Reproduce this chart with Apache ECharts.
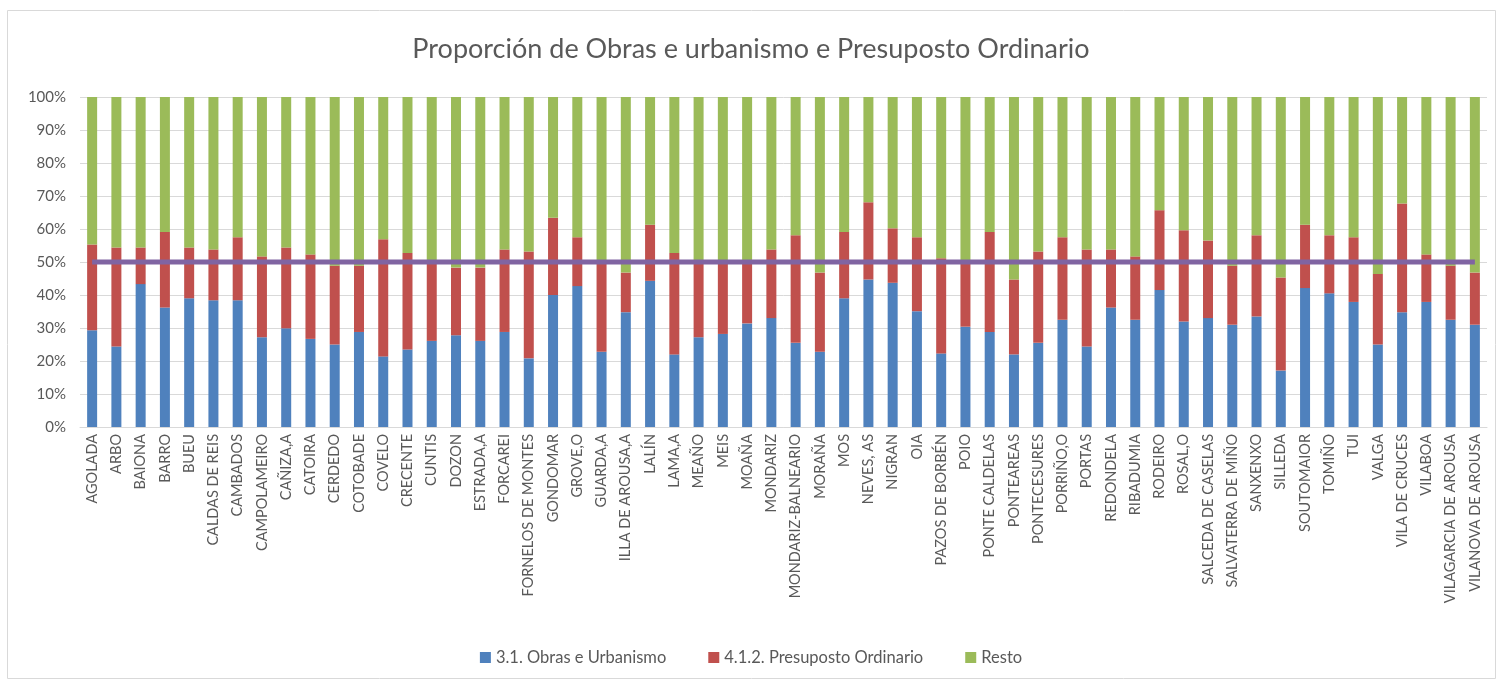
<!DOCTYPE html>
<html>
<head>
<meta charset="utf-8">
<script src="https://cdn.jsdelivr.net/npm/echarts@6/dist/echarts.min.js"></script>
<style>
  html, body { margin: 0; padding: 0; background: #fff; }
  #chart { width: 1502px; height: 684px; }
</style>
</head>
<body>
<div id="chart"></div>
<script>
const concellos = [
  'AGOLADA', 'ARBO', 'BAIONA', 'BARRO', 'BUEU', 'CALDAS DE REIS', 'CAMBADOS', 'CAMPOLAMEIRO',
  'CAÑIZA,A', 'CATOIRA', 'CERDEDO', 'COTOBADE', 'COVELO', 'CRECENTE', 'CUNTIS', 'DOZON',
  'ESTRADA,A', 'FORCAREI', 'FORNELOS DE MONTES', 'GONDOMAR', 'GROVE,O', 'GUARDA,A',
  'ILLA DE AROUSA,A', 'LALÍN', 'LAMA,A', 'MEAÑO', 'MEIS', 'MOAÑA', 'MONDARIZ',
  'MONDARIZ-BALNEARIO', 'MORAÑA', 'MOS', 'NEVES, AS', 'NIGRAN', 'OIA', 'PAZOS DE BORBÉN',
  'POIO', 'PONTE CALDELAS', 'PONTEAREAS', 'PONTECESURES', 'PORRIÑO,O', 'PORTAS', 'REDONDELA',
  'RIBADUMIA', 'RODEIRO', 'ROSAL,O', 'SALCEDA DE CASELAS', 'SALVATERRA DE MIÑO', 'SANXENXO',
  'SILLEDA', 'SOUTOMAIOR', 'TOMIÑO', 'TUI', 'VALGA', 'VILA DE CRUCES', 'VILABOA',
  'VILAGARCIA DE AROUSA', 'VILANOVA DE AROUSA'
];

// % Obras e Urbanismo
const obras = [
  29.3, 24.4, 43.3, 36.2, 39.0, 38.4, 38.4, 27.2, 29.9, 26.7,
  25.0, 28.8, 21.4, 23.5, 26.1, 27.8, 26.1, 28.8, 20.8, 40.0,
  42.7, 22.8, 34.8, 44.3, 22.0, 27.2, 28.2, 31.4, 33.0, 25.5,
  22.8, 39.0, 44.7, 43.7, 35.1, 22.3, 30.4, 28.8, 22.0, 25.5,
  32.5, 24.4, 36.2, 32.5, 41.5, 32.0, 33.0, 31.0, 33.5, 17.1,
  42.1, 40.5, 37.9, 25.0, 34.8, 37.9, 32.5, 31.0
];

// % Presuposto Ordinario
const ordinario = [
  26.0, 30.0, 11.1, 22.9, 15.4, 15.4, 19.1, 24.5, 24.5, 25.6,
  23.9, 20.1, 35.5, 29.2, 24.2, 20.5, 22.2, 25.0, 32.4, 23.4,
  14.8, 27.2, 12.0, 17.0, 30.7, 23.0, 22.0, 18.8, 20.8, 32.6,
  24.0, 20.1, 23.4, 16.5, 22.4, 28.8, 19.8, 30.3, 22.7, 27.7,
  25.0, 29.4, 17.6, 19.2, 24.2, 27.6, 23.5, 17.9, 24.6, 28.2,
  19.2, 17.6, 19.6, 21.4, 32.9, 14.4, 16.4, 15.8
];

const resto = obras.map((v, i) => +(100 - v - ordinario[i]).toFixed(1));
const referencia = concellos.map(() => 50);

const chart = echarts.init(document.getElementById('chart'));
const fontFamily = 'Lato, "Open Sans", sans-serif';

const option = {
  animation: false,
  textStyle: { fontFamily: fontFamily, color: '#595959' },
  title: {
    text: 'Proporción de Obras e urbanismo e Presuposto Ordinario',
    left: 'center',
    top: 31,
    textStyle: { fontFamily: fontFamily, fontSize: 27, fontWeight: 'normal', color: '#595959' }
  },
  graphic: [{
    type: 'rect',
    shape: { x: 7.5, y: 10.5, width: 1488, height: 668 },
    style: { fill: 'none', stroke: '#d9d9d9', lineWidth: 1 },
    silent: true
  }],
  legend: {
    bottom: 13,
    left: 'center',
    itemWidth: 11,
    itemHeight: 11,
    itemGap: 42,
    icon: 'rect',
    data: ['3.1. Obras e Urbanismo', '4.1.2. Presuposto Ordinario', 'Resto'],
    textStyle: { fontFamily: fontFamily, fontSize: 16.5, color: '#595959' }
  },
  grid: { left: 80, right: 15, top: 97, bottom: 257, containLabel: false },
  xAxis: {
    type: 'category',
    data: concellos,
    axisLine: { lineStyle: { color: '#d9d9d9' } },
    axisTick: { show: false },
    axisLabel: {
      rotate: 90,
      interval: 0,
      margin: 7,
      fontFamily: fontFamily,
      fontSize: 14.5,
      color: '#595959'
    }
  },
  yAxis: {
    type: 'value',
    min: 0,
    max: 100,
    interval: 10,
    axisLine: { show: false },
    axisTick: { show: false },
    splitLine: { lineStyle: { color: '#d9d9d9', width: 1 } },
    axisLabel: {
      formatter: '{value}%',
      fontFamily: fontFamily,
      fontSize: 15,
      color: '#595959',
      margin: 14
    }
  },
  series: [
    {
      name: '3.1. Obras e Urbanismo',
      type: 'bar',
      stack: 'total',
      barWidth: 10,
      itemStyle: { color: '#4F81BD' },
      data: obras
    },
    {
      name: '4.1.2. Presuposto Ordinario',
      type: 'bar',
      stack: 'total',
      barWidth: 10,
      itemStyle: { color: '#C0504D' },
      data: ordinario
    },
    {
      name: 'Resto',
      type: 'bar',
      stack: 'total',
      barWidth: 10,
      itemStyle: { color: '#9BBB59' },
      data: resto
    },
    {
      name: 'Media',
      type: 'line',
      symbol: 'none',
      z: 5,
      lineStyle: { color: '#8064A2', width: 5 },
      data: referencia
    }
  ]
};

chart.setOption(option);
</script>
</body>
</html>
